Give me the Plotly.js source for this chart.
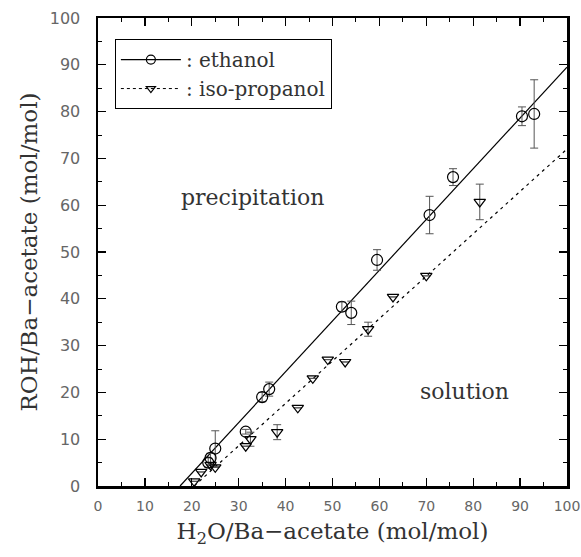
<!DOCTYPE html>
<html>
<head>
<meta charset="utf-8">
<script src="https://cdn.plot.ly/plotly-3.0.1.min.js"></script>
<style>html,body{margin:0;padding:0;background:#fff;}</style>
</head>
<body>
<div id="chart" style="width:581px;height:557px;"></div>
<script>
// Ethanol measurements
const ethX = [23.5, 24, 25, 31.5, 35, 36.5, 52, 54, 59.5, 70.7, 75.7, 90.4, 93];
const ethY = [5, 6, 8, 11.6, 19, 20.7, 38.3, 37, 48.3, 57.9, 66, 79, 79.5];
const ethErr = [1, 1, 3.8, 0.5, 1, 1.5, 1, 2.5, 2.2, 4, 1.8, 2, 7.3];
// Iso-propanol measurements
const ipaX = [20.5, 22, 24, 25, 31.5, 32.5, 38.2, 42.6, 45.8, 49, 52.7, 57.6, 62.9, 70, 81.4];
const ipaY = [1, 3, 4.5, 4, 8.5, 10, 11.5, 16.7, 23, 27, 26.5, 33.5, 40.4, 44.9, 60.7];
const ipaErr = [0, 0, 0, 0, 0, 1.5, 1.6, 0, 0, 0, 0, 1.5, 0, 0, 3.8];
// Fitted lines
const ethFitX = [17.5, 100];
const ethFitY = [0, 89.5];
const ipaFitX = [20.5, 100];
const ipaFitY = [0, 72];

const ticksVals = [0,10,20,30,40,50,60,70,80,90,100];

const traces = [
  {x: ethFitX, y: ethFitY, mode: 'lines', line: {color: '#000', width: 1.2}, showlegend: false, hoverinfo: 'skip'},
  {x: ipaFitX, y: ipaFitY, mode: 'lines', line: {color: '#000', width: 1.2, dash: '3px,4px'}, showlegend: false, hoverinfo: 'skip'},
  {x: ethX, y: ethY, mode: 'markers', showlegend: false,
   marker: {symbol: 'circle-open', size: 11, color: '#000', line: {width: 1.2, color: '#000'}},
   error_y: {type: 'data', array: ethErr, visible: true, color: '#555', thickness: 1, width: 4}},
  {x: ipaX, y: ipaY, mode: 'markers', showlegend: false,
   marker: {symbol: 'triangle-down-open', size: 10, color: '#000', line: {width: 1.2, color: '#000'}},
   error_y: {type: 'data', array: ipaErr, visible: true, color: '#555', thickness: 1, width: 4}},
  {x: [null], y: [null], mode: 'lines+markers', name: ': ethanol',
   line: {color: '#000', width: 1.2},
   marker: {symbol: 'circle-open', size: 9, color: '#000', line: {width: 1.2, color: '#000'}}},
  {x: [null], y: [null], mode: 'lines+markers', name: ': iso-propanol',
   line: {color: '#000', width: 1, dash: 'dot'},
   marker: {symbol: 'triangle-down-open', size: 8, color: '#000', line: {width: 1.2, color: '#000'}}}
];

const axisCommon = {
  range: [0, 100], tickvals: ticksVals, ticks: 'inside', ticklen: 8, tickwidth: 1.2, tickcolor: '#000',
  showline: true, linecolor: '#000', linewidth: 2.5, mirror: 'ticks', showgrid: false, zeroline: false,
  minor: {dtick: 5, ticks: 'inside', ticklen: 4, tickwidth: 1, tickcolor: '#000', showgrid: false}
};

const titleFont = {family: 'DejaVu Serif', size: 23, color: '#333'};

const layout = {
  width: 581, height: 557,
  margin: {l: 98, r: 14, t: 18, b: 71},
  paper_bgcolor: '#fff', plot_bgcolor: '#fff',
  xaxis: Object.assign({}, axisCommon, {
    ticklabelstandoff: 6,
    tickfont: {family: 'DejaVu Sans', size: 14, color: '#666'},
    title: {text: 'H<sub>2</sub>O/Ba\u2212acetate (mol/mol)', font: titleFont, standoff: 10}
  }),
  yaxis: Object.assign({}, axisCommon, {
    ticklabelstandoff: 12,
    tickfont: {family: 'DejaVu Sans', size: 16, color: '#666'},
    title: {text: 'ROH/Ba\u2212acetate (mol/mol)', font: titleFont, standoff: 6}
  }),
  legend: {
    x: 0.036, y: 0.955, xanchor: 'left', yanchor: 'top',
    bordercolor: '#000', borderwidth: 1, bgcolor: '#fff',
    font: {family: 'DejaVu Serif', size: 20, color: '#333'},
    tracegroupgap: 0, itemwidth: 60
  },
  annotations: [
    {x: 33, y: 61.7, xref: 'x', yref: 'y', text: 'precipitation', showarrow: false,
     font: {family: 'DejaVu Serif', size: 22, color: '#333'}},
    {x: 78.2, y: 20.3, xref: 'x', yref: 'y', text: 'solution', showarrow: false,
     font: {family: 'DejaVu Serif', size: 22, color: '#333'}}
  ],
  showlegend: true
};

Plotly.newPlot('chart', traces, layout, {displayModeBar: false, staticPlot: true});
</script>
</body>
</html>
